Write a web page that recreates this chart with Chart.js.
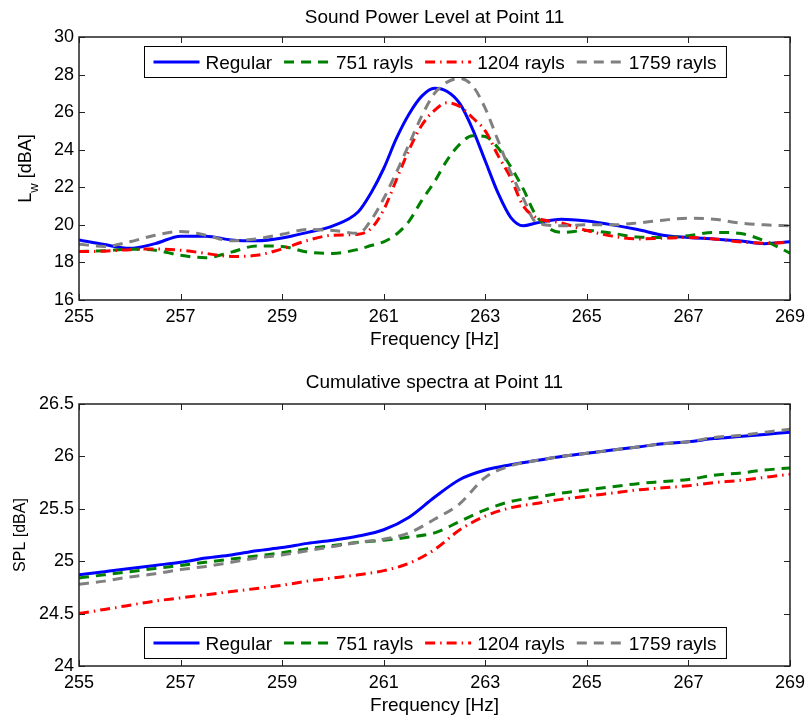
<!DOCTYPE html>
<html>
<head>
<meta charset="utf-8">
<script src="https://cdn.jsdelivr.net/npm/chart.js@4.4.1/dist/chart.umd.min.js"></script>
<style>
  html, body { margin: 0; padding: 0; background: #ffffff; }
  #wrap { position: relative; width: 811px; height: 718px; background: #ffffff; }
  canvas { position: absolute; left: 0; }
  #c1 { top: 0; }
  #c2 { top: 359px; }
</style>
</head>
<body>
<div id="wrap">
  <canvas id="c1" width="811" height="359"></canvas>
  <canvas id="c2" width="811" height="359"></canvas>
</div>
<script>
// ---------------- DATA ----------------
const seriesLabels = ['Regular', '751 rayls', '1204 rayls', '1759 rayls'];

const xTickValues = [255, 257, 259, 261, 263, 265, 267, 269];
const yTickValuesTop = [16, 18, 20, 22, 24, 26, 28, 30];
const yTickValuesBottom = [24, 24.5, 25, 25.5, 26, 26.5];

// Sound power level spectrum (top panel)
const freqTop = [255, 255.5, 256, 256.5, 257, 257.5, 258, 258.5, 259, 259.5, 260, 260.5,
  260.75, 261, 261.25, 261.5, 261.75, 262, 262.25, 262.5, 262.75, 263, 263.25, 263.5, 263.75,
  264, 264.5, 265, 265.5, 266, 266.5, 267, 267.5, 268, 268.5, 269];
const lwRegular = [19.2, 18.95, 18.75, 19.0, 19.4, 19.4, 19.2, 19.15, 19.3, 19.6, 19.95, 20.7,
  21.7, 23.0, 24.6, 25.9, 26.85, 27.27, 27.1, 26.45, 25.1, 23.4, 21.7, 20.4, 19.95,
  20.1, 20.3, 20.2, 20.0, 19.75, 19.45, 19.33, 19.25, 19.15, 19.0, 19.1];
const lw751 = [18.58, 18.62, 18.7, 18.65, 18.38, 18.25, 18.55, 18.88, 18.85, 18.55, 18.48, 18.7,
  18.9, 19.1, 19.5, 20.2, 21.3, 22.3, 23.45, 24.3, 24.75, 24.7, 24.1, 23.1, 21.9,
  20.5, 19.6, 19.7, 19.55, 19.35, 19.33, 19.42, 19.6, 19.55, 19.15, 18.5];
const lw1204 = [18.58, 18.6, 18.68, 18.72, 18.65, 18.48, 18.32, 18.38, 18.72, 19.17, 19.45, 19.5,
  19.8, 20.8, 22.4, 24.0, 25.3, 26.1, 26.5, 26.3, 25.7, 25.0, 23.7, 22.5, 21.0,
  20.4, 20.1, 19.7, 19.4, 19.25, 19.29, 19.33, 19.25, 19.1, 19.02, 19.07];
const lw1759 = [18.97, 18.85, 19.1, 19.45, 19.65, 19.45, 19.15, 19.25, 19.5, 19.75, 19.7, 19.55,
  20.25, 21.4, 22.8, 24.3, 25.8, 27.0, 27.6, 27.8, 27.4, 26.2, 24.5, 22.8, 21.4,
  20.15, 19.95, 20.0, 20.0, 20.1, 20.25, 20.35, 20.3, 20.1, 20.0, 19.95];

// Cumulative spectra (bottom panel)
const freqCum = [255, 255.5, 256, 256.5, 257, 257.5, 258, 258.5, 259, 259.5, 260, 260.5, 261, 261.5,
  262, 262.5, 263, 263.5, 264, 264.5, 265, 265.5, 266, 266.5, 267, 267.5, 268, 268.5, 269];
const splRegular = [24.87, 24.9, 24.93, 24.96, 24.99, 25.03, 25.06, 25.1, 25.13, 25.17, 25.2, 25.24, 25.3, 25.42,
  25.61, 25.78, 25.87, 25.92, 25.96, 26.0, 26.03, 26.06, 26.09, 26.12, 26.14, 26.17, 26.19, 26.21, 26.23];
const spl751 = [24.84, 24.87, 24.9, 24.93, 24.96, 24.99, 25.02, 25.05, 25.08, 25.12, 25.15, 25.18, 25.2, 25.23,
  25.27, 25.38, 25.49, 25.57, 25.61, 25.65, 25.68, 25.71, 25.74, 25.76, 25.78, 25.82, 25.84, 25.87, 25.89];
const spl1204 = [24.5, 24.54, 24.58, 24.62, 24.65, 24.68, 24.71, 24.74, 24.77, 24.81, 24.84, 24.87, 24.91, 24.98,
  25.11, 25.3, 25.43, 25.51, 25.55, 25.59, 25.62, 25.65, 25.68, 25.7, 25.72, 25.75, 25.77, 25.8, 25.83];
const spl1759 = [24.78, 24.81, 24.85, 24.88, 24.92, 24.95, 24.99, 25.03, 25.06, 25.1, 25.14, 25.18, 25.21, 25.27,
  25.4, 25.55, 25.8, 25.91, 25.96, 26.0, 26.03, 26.06, 26.09, 26.12, 26.14, 26.18, 26.2, 26.23, 26.26];

// ---------------- STYLE ----------------
const FONT = "'Liberation Sans', Arial, Helvetica, sans-serif";
const styles = [
  { color: '#0000ff', dash: [], width: 3, order: 4 },
  { color: '#008000', dash: [10, 7], width: 3, order: 3 },
  { color: '#ff0000', dash: [10, 5, 1.5, 5], width: 3, order: 2 },
  { color: '#808080', dash: [10, 7], width: 3, order: 1 }
];

function makeDatasets(xs, seriesList) {
  return seriesList.map((ys, i) => ({
    label: seriesLabels[i],
    data: xs.map((x, k) => ({ x: x, y: ys[k] })),
    borderColor: styles[i].color,
    backgroundColor: styles[i].color,
    borderWidth: styles[i].width,
    borderDash: styles[i].dash,
    borderCapStyle: 'butt',
    borderJoinStyle: 'round',
    pointRadius: 0,
    fill: false,
    cubicInterpolationMode: 'monotone',
    clip: 0,
    order: styles[i].order
  }));
}

// Plugin: frame, inward ticks, titles, axis labels, boxed legend
function framePlugin(cfg) {
  return {
    id: 'frame',
    afterDatasetsDraw(chart) {
      const ctx = chart.ctx;
      const ca = chart.chartArea;
      const xs = chart.scales.x, ys = chart.scales.y;
      ctx.save();
      // inward ticks
      ctx.strokeStyle = '#222';
      ctx.lineWidth = 1;
      ctx.setLineDash([]);
      ctx.beginPath();
      xs.ticks.forEach(t => {
        const px = Math.round(xs.getPixelForValue(t.value)) + 0.5;
        ctx.moveTo(px, ca.bottom); ctx.lineTo(px, ca.bottom - 6);
        ctx.moveTo(px, ca.top); ctx.lineTo(px, ca.top + 6);
      });
      ys.ticks.forEach(t => {
        const py = Math.round(ys.getPixelForValue(t.value)) + 0.5;
        ctx.moveTo(ca.left, py); ctx.lineTo(ca.left + 6, py);
        ctx.moveTo(ca.right, py); ctx.lineTo(ca.right - 6, py);
      });
      ctx.stroke();
      // box
      ctx.lineWidth = 1.5;
      ctx.strokeRect(ca.left, ca.top, ca.right - ca.left, ca.bottom - ca.top);

      const cx = (ca.left + ca.right) / 2;
      // title
      ctx.fillStyle = '#000';
      ctx.textAlign = 'center';
      ctx.textBaseline = 'alphabetic';
      ctx.font = '19px ' + FONT;
      ctx.fillText(cfg.title, cx, ca.top - cfg.titleGap);
      // x axis label
      ctx.fillText('Frequency [Hz]', cx, ca.bottom + 45);
      // y axis label
      const cy = (ca.top + ca.bottom) / 2;
      ctx.translate(cfg.yLabelX, cy);
      ctx.rotate(-Math.PI / 2);
      ctx.textAlign = 'left';
      if (cfg.yLabelSub) {
        const f1 = '18px ' + FONT, f2 = '13px ' + FONT;
        ctx.font = f1; const wA = ctx.measureText(cfg.yLabelMain).width;
        ctx.font = f2; const wB = ctx.measureText(cfg.yLabelSub).width;
        ctx.font = f1; const wC = ctx.measureText(cfg.yLabelRest).width;
        let x0 = -(wA + wB + wC) / 2;
        ctx.font = f1; ctx.fillText(cfg.yLabelMain, x0, 0);
        ctx.font = f2; ctx.fillText(cfg.yLabelSub, x0 + wA, 7);
        ctx.font = f1; ctx.fillText(cfg.yLabelRest, x0 + wA + wB, 0);
      } else {
        ctx.font = cfg.yLabelFont + 'px ' + FONT;
        ctx.textAlign = 'center';
        ctx.fillText(cfg.yLabelMain, 0, 0);
      }
      ctx.restore();

      // legend
      ctx.save();
      ctx.font = '19px ' + FONT;
      const sample = 46, gapText = 6, gapEntry = 12, padL = 9, padR = 10, boxH = 31;
      const items = chart.data.datasets.map(ds => ({ ds: ds, w: ctx.measureText(ds.label).width }));
      let total = padL + padR;
      items.forEach((it, i) => { total += sample + gapText + it.w + (i < items.length - 1 ? gapEntry : 0); });
      const bx = Math.round(cx - total / 2) + 0.5;
      const by = (cfg.legendPos === 'top' ? ca.top + 9 : ca.bottom - 8 - boxH) + 0.5;
      ctx.fillStyle = '#fff';
      ctx.fillRect(bx, by, total, boxH);
      ctx.strokeStyle = '#000';
      ctx.lineWidth = 1;
      ctx.strokeRect(bx, by, total, boxH);
      const ym = by + boxH / 2;
      let x = bx + padL;
      items.forEach(it => {
        ctx.beginPath();
        ctx.setLineDash(it.ds.borderDash || []);
        ctx.lineDashOffset = 0;
        ctx.strokeStyle = it.ds.borderColor;
        ctx.lineWidth = it.ds.borderWidth;
        ctx.moveTo(x, ym); ctx.lineTo(x + sample, ym);
        ctx.stroke();
        ctx.setLineDash([]);
        ctx.fillStyle = '#000';
        ctx.textAlign = 'left';
        ctx.textBaseline = 'alphabetic';
        ctx.fillText(it.ds.label, x + sample + gapText, ym + 6.8);
        x += sample + gapText + it.w + gapEntry;
      });
      ctx.restore();
    }
  };
}

function makeChart(canvasId, xs, seriesList, yTicks, yMin, yMax, cfg) {
  return new Chart(document.getElementById(canvasId), {
    type: 'line',
    data: { datasets: makeDatasets(xs, seriesList) },
    options: {
      responsive: false,
      animation: false,
      layout: { padding: { left: 0, right: 16, top: cfg.padTop, bottom: 0 } },
      plugins: { legend: { display: false }, tooltip: { enabled: false }, title: { display: false } },
      scales: {
        x: {
          type: 'linear', min: 255, max: 269,
          afterBuildTicks: s => { s.ticks = xTickValues.map(v => ({ value: v })); },
          afterFit: s => { s.height = cfg.xHeight; },
          grid: { display: false, drawTicks: false, tickLength: 0 },
          border: { display: false },
          ticks: { font: { family: FONT, size: 18 }, color: '#000', padding: 6, maxRotation: 0, callback: v => String(v) }
        },
        y: {
          type: 'linear', min: yMin, max: yMax,
          afterBuildTicks: s => { s.ticks = yTicks.map(v => ({ value: v })); },
          afterFit: s => { s.width = 79; },
          grid: { display: false, drawTicks: false, tickLength: 0 },
          border: { display: false },
          ticks: { font: { family: FONT, size: 18 }, color: '#000', padding: 5, callback: v => String(v) }
        }
      }
    },
    plugins: [framePlugin(cfg)]
  });
}

makeChart('c1', freqTop, [lwRegular, lw751, lw1204, lw1759], yTickValuesTop, 16, 30, {
  padTop: 37, xHeight: 59, title: 'Sound Power Level at Point 11', titleGap: 14,
  yLabelX: 31, yLabelMain: 'L', yLabelSub: 'w', yLabelRest: ' [dBA]', legendPos: 'top'
});

makeChart('c2', freqCum, [splRegular, spl751, spl1204, spl1759], yTickValuesBottom, 24, 26.5, {
  padTop: 45, xHeight: 52, title: 'Cumulative spectra at Point 11', titleGap: 16,
  yLabelX: 25, yLabelMain: 'SPL [dBA]', yLabelFont: 16, legendPos: 'bottom'
});
</script>
</body>
</html>
